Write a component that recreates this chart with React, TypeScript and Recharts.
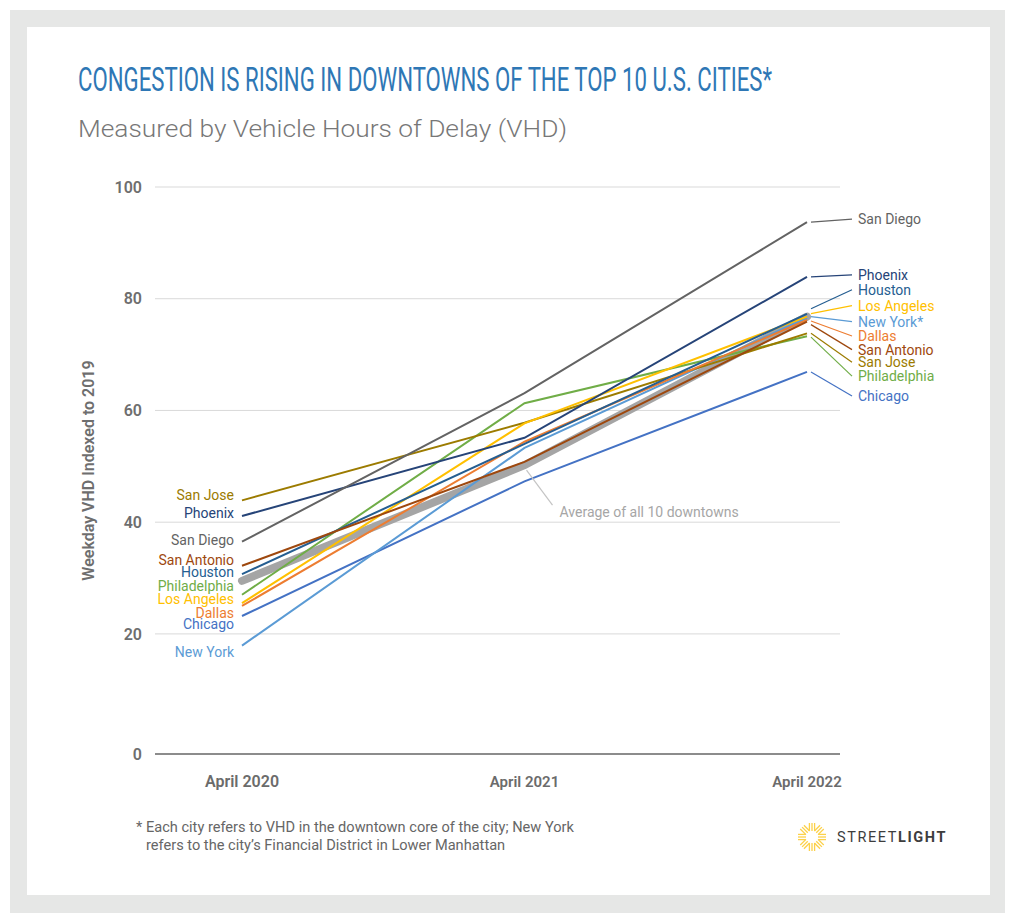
import React from 'react';
import { LineChart, Line, XAxis, YAxis, CartesianGrid, LabelList } from 'recharts';

const PERIODS = ['April 2020', 'April 2021', 'April 2022'];

const SAN_DIEGO = [36.5, 63.1, 93.7];
const PHOENIX = [41.1, 55.1, 83.9];
const HOUSTON = [30.7, 54.0, 77.3];
const LOS_ANGELES = [25.5, 57.7, 76.8];
const NEW_YORK = [17.9, 53.3, 76.6];
const DALLAS = [25.0, 54.4, 76.2];
const SAN_ANTONIO = [32.2, 50.8, 75.9];
const SAN_JOSE = [43.9, 57.8, 73.8];
const PHILADELPHIA = [27.0, 61.3, 73.3];
const CHICAGO = [23.2, 47.3, 66.9];
const AVERAGE = [29.5, 50.2, 76.8];

const Y_TICKS = [0, 20, 40, 60, 80, 100];

// the original baseline marked "0" sits a little below the regular 20-step spacing
const AXIS_FLOOR = -1.5;

const FONT = 'Roboto, "Noto Sans", sans-serif';

// leftDy / rightDy: label offset from its end point, leadDy: where the leader leaves the point
const CITIES = [
  { key: 'chicago', name: 'Chicago', rightName: 'Chicago', values: CHICAGO, color: '#4472c4', leftDy: 8, rightDy: 24, leadDy: 0 },
  { key: 'newYork', name: 'New York', rightName: 'New York*', values: NEW_YORK, color: '#5b9bd5', leftDy: 6, rightDy: 4, leadDy: -1 },
  { key: 'philadelphia', name: 'Philadelphia', rightName: 'Philadelphia', values: PHILADELPHIA, color: '#70ad47', leftDy: -9, rightDy: 40, leadDy: 1 },
  { key: 'sanJose', name: 'San Jose', rightName: 'San Jose', values: SAN_JOSE, color: '#9c7b00', leftDy: -5, rightDy: 29, leadDy: 0 },
  { key: 'losAngeles', name: 'Los Angeles', rightName: 'Los Angeles', values: LOS_ANGELES, color: '#ffc000', leftDy: -4, rightDy: -11, leadDy: -3 },
  { key: 'dallas', name: 'Dallas', rightName: 'Dallas', values: DALLAS, color: '#ed7d31', leftDy: 7, rightDy: 16, leadDy: 1 },
  { key: 'houston', name: 'Houston', rightName: 'Houston', values: HOUSTON, color: '#255e91', leftDy: -2, rightDy: -24, leadDy: -5 },
  { key: 'sanAntonio', name: 'San Antonio', rightName: 'San Antonio', values: SAN_ANTONIO, color: '#9e480e', leftDy: -6, rightDy: 28, leadDy: 3 },
  { key: 'phoenix', name: 'Phoenix', rightName: 'Phoenix', values: PHOENIX, color: '#264478', leftDy: -3, rightDy: -2, leadDy: 0 },
  { key: 'sanDiego', name: 'San Diego', rightName: 'San Diego', values: SAN_DIEGO, color: '#636363', leftDy: -2, rightDy: -3, leadDy: 0 },
];

const rows = PERIODS.map((period, i) => {
  const row: any = { period, average: AVERAGE[i] };
  CITIES.forEach((c) => {
    row[c.key] = c.values[i];
  });
  return row;
});

const X_TICK_SIZES = [16, 15, 15];

function edgeLabel(city: any) {
  return (props: any) => {
    const { x, y, index } = props;
    if (index === 0) {
      return (
        <text x={x - 8} y={y + city.leftDy} dy="0.35em" textAnchor="end" fill={city.color} fontSize={14} fontFamily={FONT}>
          {city.name}
        </text>
      );
    }
    if (index === PERIODS.length - 1) {
      const ly = y + city.rightDy;
      return (
        <g>
          <line x1={x + 4} y1={y + city.leadDy} x2={x + 45} y2={ly} stroke={city.color} strokeWidth={1.2} />
          <text x={x + 51} y={ly} dy="0.35em" textAnchor="start" fill={city.color} fontSize={14} fontFamily={FONT}>
            {city.rightName}
          </text>
        </g>
      );
    }
    return <g />;
  };
}

function averageLabel(props: any) {
  const { x, y, index } = props;
  if (index !== 1) return <g />;
  return (
    <g>
      <line x1={x + 2} y1={y + 5} x2={x + 28} y2={y + 40} stroke="#c4c4c4" strokeWidth={1.2} />
      <text x={x + 35} y={y + 47} dy="0.35em" fill="#a6a6a6" fontSize={14} fontFamily={FONT}>
        Average of all 10 downtowns
      </text>
    </g>
  );
}

function PeriodTick(props: any) {
  const { x, y, payload, index } = props;
  return (
    <text x={x} y={y + 33} textAnchor="middle" fill="#6b6b6b" fontSize={X_TICK_SIZES[index] || 15} fontWeight={600} fontFamily={FONT}>
      {payload.value}
    </text>
  );
}

function Logo() {
  const cx = 812;
  const cy = 837;
  const rays = [];
  for (let k = 0; k < 8; k++) {
    const a = (k * Math.PI) / 4;
    const ux = Math.cos(a);
    const uy = Math.sin(a);
    for (const off of [-2.6, 0, 2.6]) {
      const px = -uy * off;
      const py = ux * off;
      rays.push(
        <line
          key={`${k}-${off}`}
          x1={cx + ux * 6 + px}
          y1={cy + uy * 6 + py}
          x2={cx + ux * 14 + px}
          y2={cy + uy * 14 + py}
          stroke="#fcd14a"
          strokeWidth={1.3}
        />
      );
    }
  }
  return (
    <g>
      {rays}
      <text x={837} y={842} fontSize={14.5} fill="#3d3d3d" fontFamily={FONT} letterSpacing={1.6}>
        <tspan fontWeight={400}>STREET</tspan>
        <tspan fontWeight={700}>LIGHT</tspan>
      </text>
    </g>
  );
}

export default function App() {
  return (
    <div style={{ position: 'absolute', left: 0, top: 0, width: 1018, height: 924, background: '#fff', fontFamily: FONT }}>
      <div style={{ position: 'absolute', left: 10, top: 10, width: 995, height: 903, background: '#e6e7e6' }} />
      <div style={{ position: 'absolute', left: 27, top: 27, width: 963, height: 868, background: '#fff' }} />
      <div style={{ position: 'absolute', left: 0, top: 0 }}>
        <LineChart width={1018} height={924} data={rows} margin={{ top: 187, right: 178, left: 95, bottom: 130 }}>
          <CartesianGrid vertical={false} stroke="#d9d9d9" />
          <XAxis
            dataKey="period"
            padding={{ left: 87, right: 33 }}
            axisLine={{ stroke: '#8c8c8c', strokeWidth: 2 }}
            tickLine={false}
            tickSize={0}
            tickMargin={0}
            height={40}
            tick={<PeriodTick />}
          />
          <YAxis
            type="number"
            domain={[AXIS_FLOOR, 100]}
            ticks={Y_TICKS.map((t) => (t === 0 ? AXIS_FLOOR : t))}
            tickFormatter={(v: number) => (v <= 0 ? '0' : String(v))}
            axisLine={false}
            tickLine={false}
            tickSize={0}
            tickMargin={13}
            width={60}
            tick={{ fill: '#6e6e6e', fontSize: 16, fontWeight: 600, fontFamily: FONT }}
            label={{
              value: 'Weekday VHD Indexed to 2019',
              angle: -90,
              position: 'left',
              offset: 7,
              style: { fill: '#6e6e6e', fontSize: 16, fontWeight: 600, fontFamily: FONT, textAnchor: 'middle' },
            }}
          />
          <Line
            dataKey="average"
            stroke="#a5a5a5"
            strokeWidth={8}
            strokeLinecap="round"
            dot={false}
            activeDot={false}
            isAnimationActive={false}
          >
            <LabelList dataKey="average" content={averageLabel} />
          </Line>
          {CITIES.map((c) => (
            <Line
              key={c.key}
              dataKey={c.key}
              stroke={c.color}
              strokeWidth={2}
              dot={false}
              activeDot={false}
              isAnimationActive={false}
            >
              <LabelList dataKey={c.key} content={edgeLabel(c)} />
            </Line>
          ))}
        </LineChart>
      </div>
      <svg width={1018} height={924} style={{ position: 'absolute', left: 0, top: 0, pointerEvents: 'none' }}>
        <text
          x={78}
          y={91}
          fontSize={34}
          fill="#2e77b5"
          fontFamily={FONT}
          textLength={694}
          lengthAdjust="spacingAndGlyphs"
        >
          CONGESTION IS RISING IN DOWNTOWNS OF THE TOP 10 U.S. CITIES*
        </text>
        <text x={78} y={137} fontSize={24} fontWeight={300} fill="#777" fontFamily={FONT} textLength={489} lengthAdjust="spacingAndGlyphs">
          Measured by Vehicle Hours of Delay (VHD)
        </text>
        <text x={136} y={832} fontSize={14.6} fill="#666" fontFamily={FONT}>
          * Each city refers to VHD in the downtown core of the city; New York
        </text>
        <text x={146} y={850} fontSize={14.6} fill="#666" fontFamily={FONT}>
          refers to the city’s Financial District in Lower Manhattan
        </text>
        <Logo />
      </svg>
    </div>
  );
}
